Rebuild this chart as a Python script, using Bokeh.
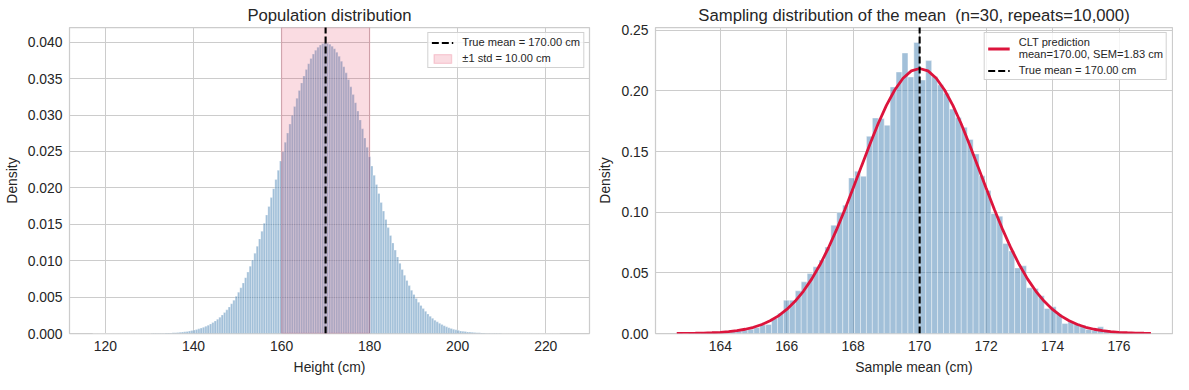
from bokeh.plotting import figure
from bokeh.layouts import row
from bokeh.models import (Range1d, SingleIntervalTicker, NumeralTickFormatter,
                          Legend, LegendItem, ColumnDataSource)
from bokeh.embed import file_html
from bokeh.resources import INLINE

FONT = "Liberation Sans"
TXT = "#262626"

# ---------------- data ----------------
TRUE_MEAN = 170.0
POP_STD = 10.0
SEM = 1.83

# population histogram (density), 200 bins
pop_bin_start = 117.1
pop_bin_width = 0.5305
pop_density = [
    0.0, 0.0, 0.0, 0.0, 0.0, 0.0, 0.0, 0.0, 0.0, 0.0, 0.0, 0.0,
    0.0, 0.0, 0.0, 0.0, 0.0, 0.0, 0.0, 0.0, 0.0, 0.0, 0.0, 0.0,
    0.00001, 0.00002, 0.00002, 0.00003, 0.00003, 0.00004, 0.00005, 0.00006,
    0.00007, 0.00008, 0.00010, 0.00012, 0.00014, 0.00017, 0.00020, 0.00024,
    0.00029, 0.00034, 0.00040, 0.00047, 0.00055, 0.00064, 0.00074, 0.00086,
    0.00100, 0.00115, 0.00132, 0.00151, 0.00173, 0.00197, 0.00224, 0.00255,
    0.00288, 0.00325, 0.00365, 0.00409, 0.00458, 0.00510, 0.00568, 0.00629,
    0.00695, 0.00767, 0.00843, 0.00925, 0.01011, 0.01103, 0.01198, 0.01299,
    0.01405, 0.01514, 0.01628, 0.01745, 0.01866, 0.01989, 0.02114, 0.02241,
    0.02369, 0.02497, 0.02625, 0.02752, 0.02876, 0.02998, 0.03116, 0.03230,
    0.03338, 0.03441, 0.03537, 0.03624, 0.03705, 0.03776, 0.03837, 0.03889,
    0.03930, 0.03961, 0.03981, 0.03989, 0.03986, 0.03972, 0.03946, 0.03910,
    0.03863, 0.03806, 0.03739, 0.03663, 0.03579, 0.03487, 0.03387, 0.03281,
    0.03170, 0.03054, 0.02933, 0.02810, 0.02684, 0.02557, 0.02428, 0.02300,
    0.02172, 0.02046, 0.01922, 0.01800, 0.01681, 0.01565, 0.01454, 0.01346,
    0.01244, 0.01145, 0.01052, 0.00963, 0.00879, 0.00801, 0.00727, 0.00658,
    0.00594, 0.00535, 0.00481, 0.00430, 0.00384, 0.00342, 0.00304, 0.00269,
    0.00237, 0.00209, 0.00183, 0.00161, 0.00140, 0.00122, 0.00106, 0.00092,
    0.00079, 0.00068, 0.00059, 0.00050, 0.00043, 0.00036, 0.00031, 0.00026,
    0.00022, 0.00019, 0.00016, 0.00013, 0.00011, 0.00009, 0.00008, 0.00006,
    0.00005, 0.00004, 0.00003, 0.00003, 0.00002, 0.00002, 0.00002,
    0.0, 0.0, 0.0, 0.0, 0.0, 0.0, 0.0, 0.0, 0.0, 0.0, 0.0, 0.0, 0.0,
    0.0, 0.0, 0.0, 0.0, 0.0, 0.0, 0.0, 0.0, 0.0, 0.0, 0.0, 0.0,
]

# sampling distribution histogram (density), 80 bins
samp_bin_start = 162.69
samp_bin_width = 0.1784
samp_density = [
    0.0006, 0.0, 0.0006, 0.0006, 0.0011, 0.0011, 0.0017, 0.0011, 0.0017, 0.0015,
    0.0020, 0.0030, 0.0036, 0.0049, 0.0071, 0.0074, 0.0124, 0.0165, 0.0275, 0.0275,
    0.0352, 0.0426, 0.0494, 0.0550, 0.0605, 0.0714, 0.0893, 0.0997, 0.1058, 0.1283,
    0.1338, 0.1297, 0.1626, 0.1777, 0.1772, 0.1717, 0.2033, 0.2156, 0.2313, 0.2115,
    0.2400, 0.2090, 0.2250, 0.2120, 0.2050, 0.1980, 0.1850, 0.1780, 0.1700, 0.1600,
    0.1480, 0.1300, 0.1180, 0.0989, 0.0967, 0.0742, 0.0681, 0.0541, 0.0558, 0.0377,
    0.0371, 0.0311, 0.0206, 0.0220, 0.0160, 0.0082, 0.0096, 0.0082, 0.0069, 0.0033,
    0.0027, 0.0055, 0.0022, 0.0017, 0.0014, 0.0011, 0.0011, 0.0006, 0.0006, 0.0006,
]

# CLT prediction curve
curve_x = [162.69, 163.0, 163.25, 163.5, 163.75, 164.0, 164.25, 164.5, 164.75,
           165.0, 165.25, 165.5, 165.75, 166.0, 166.25, 166.5, 166.75, 167.0,
           167.25, 167.5, 167.75, 168.0, 168.25, 168.5, 168.75, 169.0, 169.25,
           169.5, 169.75, 170.0, 170.25, 170.5, 170.75, 171.0, 171.25, 171.5,
           171.75, 172.0, 172.25, 172.5, 172.75, 173.0, 173.25, 173.5, 173.75,
           174.0, 174.25, 174.5, 174.75, 175.0, 175.25, 175.5, 175.75, 176.0,
           176.25, 176.5, 176.75, 176.96]
curve_y = [0.00007, 0.00014, 0.00024, 0.00039, 0.00063, 0.00099, 0.00154, 0.00234,
           0.00350, 0.00514, 0.00742, 0.01049, 0.01457, 0.01984, 0.02652, 0.03481,
           0.04484, 0.05668, 0.07029, 0.08559, 0.10230, 0.11990, 0.13800, 0.15590,
           0.17290, 0.18810, 0.20080, 0.21050, 0.21650, 0.21850, 0.21650, 0.21050,
           0.20080, 0.18810, 0.17290, 0.15590, 0.13800, 0.11990, 0.10230, 0.08559,
           0.07029, 0.05668, 0.04484, 0.03481, 0.02652, 0.01984, 0.01457, 0.01049,
           0.00742, 0.00514, 0.00350, 0.00234, 0.00154, 0.00099, 0.00063, 0.00039,
           0.00024, 0.00015]

pop_title = "Population distribution"
samp_title = "Sampling distribution of the mean\u00a0 (n=30, repeats=10,000)"

BAR = "steelblue"
CRIMSON = "crimson"


def bins(start, width, dens):
    left = [start + i * width for i in range(len(dens))]
    right = [start + (i + 1) * width for i in range(len(dens))]
    return ColumnDataSource(dict(left=left, right=right, top=dens,
                                 bottom=[0.0] * len(dens)))


def style(p, title):
    p.title.text = title
    p.title.text_font = FONT
    p.title.text_font_size = "16.7px"
    p.title.text_font_style = "normal"
    p.title.text_color = TXT
    p.title.align = "center"
    p.title.standoff = 6
    p.background_fill_color = "white"
    p.border_fill_color = "white"
    p.outline_line_color = "#cccccc"
    p.outline_line_width = 1.25
    for ax in p.axis:
        ax.axis_line_color = None
        ax.major_tick_line_color = None
        ax.minor_tick_line_color = None
        ax.major_tick_out = 0
        ax.major_tick_in = 0
        ax.minor_tick_out = 0
        ax.minor_tick_in = 0
        ax.major_label_text_font = FONT
        ax.major_label_text_font_size = "13.9px"
        ax.major_label_text_color = TXT
        ax.axis_label_text_font = FONT
        ax.axis_label_text_font_size = "13.9px"
        ax.axis_label_text_font_style = "normal"
        ax.axis_label_text_color = TXT
    p.xaxis.major_label_standoff = 7
    p.xaxis.axis_label_standoff = 5
    p.yaxis.major_label_standoff = 7
    p.yaxis.axis_label_standoff = 5
    p.grid.grid_line_color = "#cccccc"
    p.grid.grid_line_width = 1


def legend(items):
    lg = Legend(items=items, location="top_right")
    lg.label_text_font = FONT
    lg.label_text_font_size = "11.1px"
    lg.label_text_color = TXT
    lg.glyph_width = 22
    lg.glyph_height = 11
    lg.label_height = 11
    lg.label_standoff = 9
    lg.spacing = 4
    lg.padding = 3
    lg.margin = 5
    lg.border_line_color = "#cccccc"
    lg.border_line_alpha = 0.9
    lg.background_fill_alpha = 0.8
    return lg


FRAME_H = 306

# ---------------- left: population ----------------
p1 = figure(width=591, frame_height=FRAME_H, output_backend="svg",
            toolbar_location=None,
            x_range=Range1d(111.84, 229.93), y_range=Range1d(0, 0.04202),
            min_border_left=64, min_border_right=2, min_border_top=22,
            min_border_bottom=0)
p1.quad(left="left", right="right", top="top", bottom="bottom",
        source=bins(pop_bin_start, pop_bin_width, pop_density),
        fill_color=BAR, fill_alpha=0.5, line_color="white", line_alpha=0.5,
        line_width=0.6)
span = p1.quad(left=[TRUE_MEAN - POP_STD], right=[TRUE_MEAN + POP_STD],
               bottom=[0], top=[1], fill_color=CRIMSON, fill_alpha=0.15,
               line_color=CRIMSON, line_alpha=0.15, line_width=1.4)
vline1 = p1.segment(x0=[TRUE_MEAN], y0=[0], x1=[TRUE_MEAN], y1=[1],
                    line_color="black", line_width=2.1, line_dash="7 3")
p1.xaxis.axis_label = "Height (cm)"
p1.yaxis.axis_label = "Density"
p1.xaxis.ticker = SingleIntervalTicker(interval=20, num_minor_ticks=0)
p1.yaxis.ticker = SingleIntervalTicker(interval=0.005, num_minor_ticks=0)
p1.yaxis.formatter = NumeralTickFormatter(format="0.000")
style(p1, pop_title)
p1.add_layout(legend([
    LegendItem(label="True mean = %.2f cm" % TRUE_MEAN, renderers=[vline1]),
    LegendItem(label="\u00b11 std = %.2f cm" % POP_STD, renderers=[span]),
]))

# ---------------- right: sampling distribution ----------------
p2 = figure(width=582, frame_height=FRAME_H, output_backend="svg",
            toolbar_location=None,
            x_range=Range1d(162.05, 177.61), y_range=Range1d(0, 0.2523),
            min_border_left=64, min_border_right=1, min_border_top=22,
            min_border_bottom=0)
p2.quad(left="left", right="right", top="top", bottom="bottom",
        source=bins(samp_bin_start, samp_bin_width, samp_density),
        fill_color=BAR, fill_alpha=0.5, line_color="white", line_alpha=0.5,
        line_width=0.8)
curve = p2.line(curve_x, curve_y, line_color=CRIMSON, line_width=2.8)
vline2 = p2.segment(x0=[TRUE_MEAN], y0=[0], x1=[TRUE_MEAN], y1=[1],
                    line_color="black", line_width=2.1, line_dash="7 3")
p2.xaxis.axis_label = "Sample mean (cm)"
p2.yaxis.axis_label = "Density"
p2.xaxis.ticker = SingleIntervalTicker(interval=2, num_minor_ticks=0)
p2.yaxis.ticker = SingleIntervalTicker(interval=0.05, num_minor_ticks=0)
p2.yaxis.formatter = NumeralTickFormatter(format="0.00")
style(p2, samp_title)
p2.add_layout(legend([
    LegendItem(label="CLT prediction\nmean=%.2f, SEM=%.2f cm" % (TRUE_MEAN, SEM),
               renderers=[curve]),
    LegendItem(label="True mean = %.2f cm" % TRUE_MEAN, renderers=[vline2]),
]))

layout = row(p1, p2)
open("out.html", "w").write(file_html(layout, INLINE))
